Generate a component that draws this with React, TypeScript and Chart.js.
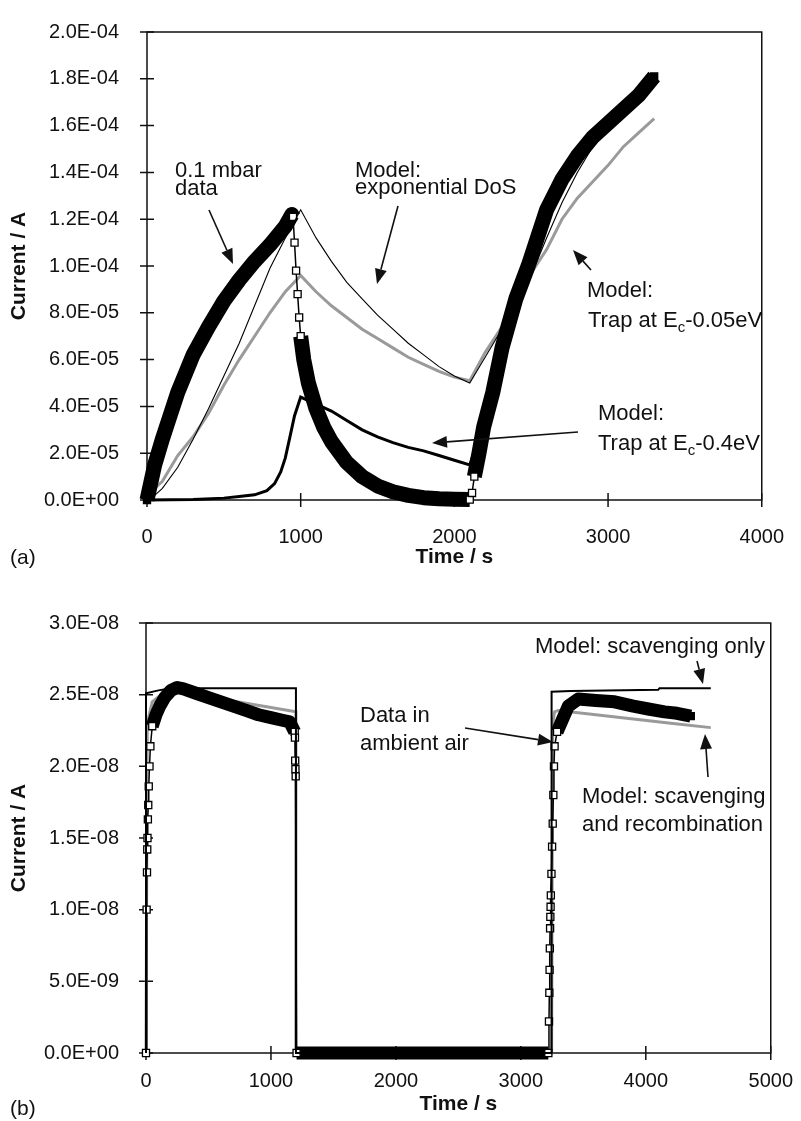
import React, { useEffect, useRef } from "react";
import { Chart, registerables } from "chart.js";

Chart.register(...registerables);

const FONT = "'Liberation Sans', Arial, Helvetica, sans-serif";
const GRAY = "#9a9a9a";
const INK = "#111";
const W = 801;

// ---------------- Panel (a) ----------------
const aTimeTicks = [0, 1000, 2000, 3000, 4000];
const aTimeTickLabels = ["0", "1000", "2000", "3000", "4000"];
const aCurrentTicks = [0, 2e-5, 4e-5, 6e-5, 8e-5, 1e-4, 1.2e-4, 1.4e-4, 1.6e-4, 1.8e-4, 2e-4];
const aCurrentTickLabels = ["0.0E+00", "2.0E-05", "4.0E-05", "6.0E-05", "8.0E-05", "1.0E-04", "1.2E-04", "1.4E-04", "1.6E-04", "1.8E-04", "2.0E-04"];

// 0.1 mbar data
const aDataTime = [0, 20, 50, 100, 150, 200, 300, 400, 500, 600, 700, 800, 900, 943, 950, 960, 970, 980, 990, 1000, 1020, 1050, 1100, 1150, 1200, 1300, 1400, 1500, 1600, 1700, 1800, 1900, 2000, 2100, 2115, 2130, 2160, 2190, 2250, 2310, 2400, 2480, 2600, 2700, 2800, 2900, 3000, 3100, 3200, 3300];
const aDataCurrent = [0, 6e-6, 1.5e-5, 2.6e-5, 3.6e-5, 4.6e-5, 6.2e-5, 7.4e-5, 8.5e-5, 9.4e-5, 1.02e-4, 1.09e-4, 1.17e-4, 1.22e-4, 1.21e-4, 1.1e-4, 9.8e-5, 8.8e-5, 7.8e-5, 7.0e-5, 6.0e-5, 5.0e-5, 3.9e-5, 3.1e-5, 2.5e-5, 1.6e-5, 1.0e-5, 6e-6, 3.5e-6, 2e-6, 1e-6, 5e-7, 3e-7, 2e-7, 3e-6, 1.0e-5, 2.0e-5, 3.1e-5, 4.6e-5, 6.5e-5, 8.6e-5, 1.0e-4, 1.24e-4, 1.37e-4, 1.47e-4, 1.55e-4, 1.61e-4, 1.67e-4, 1.73e-4, 1.81e-4];

// Model: exponential DoS
const aExpTime = [0, 50, 100, 200, 300, 400, 500, 600, 700, 800, 900, 1000, 1100, 1200, 1300, 1400, 1500, 1600, 1700, 1800, 1900, 2000, 2100, 2200, 2300, 2400, 2500, 2600, 2700, 2800, 2900, 3000, 3100, 3200, 3300];
const aExpCurrent = [0, 2e-6, 5e-6, 1.4e-5, 2.6e-5, 3.9e-5, 5.3e-5, 6.7e-5, 8.3e-5, 9.9e-5, 1.12e-4, 1.24e-4, 1.12e-4, 1.02e-4, 9.3e-5, 8.6e-5, 7.9e-5, 7.3e-5, 6.7e-5, 6.2e-5, 5.7e-5, 5.3e-5, 5.0e-5, 6.1e-5, 7.2e-5, 8.3e-5, 9.6e-5, 1.12e-4, 1.27e-4, 1.4e-4, 1.51e-4, 1.6e-4, 1.67e-4, 1.74e-4, 1.8e-4];

// Model: trap at Ec-0.05eV
const aTrap005Time = [0, 100, 200, 300, 400, 500, 600, 700, 800, 900, 1000, 1100, 1200, 1300, 1400, 1500, 1600, 1700, 1800, 1900, 2000, 2100, 2200, 2300, 2400, 2500, 2600, 2700, 2800, 2900, 3000, 3100, 3200, 3300];
const aTrap005Current = [2e-6, 8e-6, 1.9e-5, 2.7e-5, 3.7e-5, 4.9e-5, 6.0e-5, 7.0e-5, 8.0e-5, 8.9e-5, 9.6e-5, 8.9e-5, 8.3e-5, 7.8e-5, 7.3e-5, 6.9e-5, 6.5e-5, 6.1e-5, 5.8e-5, 5.5e-5, 5.25e-5, 5.1e-5, 6.3e-5, 7.3e-5, 8.3e-5, 9.7e-5, 1.07e-4, 1.2e-4, 1.29e-4, 1.36e-4, 1.43e-4, 1.51e-4, 1.57e-4, 1.63e-4];

// Model: trap at Ec-0.4eV
const aTrap04Time = [0, 300, 500, 600, 700, 780, 830, 870, 900, 930, 960, 1000, 1100, 1200, 1300, 1400, 1500, 1600, 1700, 1800, 1900, 2000, 2100, 2200, 2300, 2400, 2600, 2800, 3000, 3200, 3300];
const aTrap04Current = [0, 2e-7, 8e-7, 1.5e-6, 2.2e-6, 4e-6, 7e-6, 1.2e-5, 1.8e-5, 2.7e-5, 3.6e-5, 4.4e-5, 4.1e-5, 3.8e-5, 3.4e-5, 3.0e-5, 2.7e-5, 2.45e-5, 2.25e-5, 2.1e-5, 1.9e-5, 1.7e-5, 1.5e-5, 3.4e-5, 6.2e-5, 8.5e-5, 1.23e-4, 1.46e-4, 1.6e-4, 1.72e-4, 1.79e-4];

// ---------------- Panel (b) ----------------
const bTimeTicks = [0, 1000, 2000, 3000, 4000, 5000];
const bTimeTickLabels = ["0", "1000", "2000", "3000", "4000", "5000"];
const bCurrentTicks = [0, 5e-9, 1e-8, 1.5e-8, 2e-8, 2.5e-8, 3e-8];
const bCurrentTickLabels = ["0.0E+00", "5.0E-09", "1.0E-08", "1.5E-08", "2.0E-08", "2.5E-08", "3.0E-08"];

// Data in ambient air
const bDataTime = [0, 5, 8, 10, 12, 15, 18, 22, 28, 35, 50, 80, 110, 150, 200, 250, 300, 400, 500, 600, 700, 800, 900, 1000, 1100, 1150, 1190, 1192, 1194, 1196, 1198, 1205, 1300, 1500, 1800, 2100, 2400, 2700, 3000, 3220, 3225, 3228, 3230, 3232, 3234, 3236, 3238, 3240, 3245, 3250, 3255, 3260, 3265, 3270, 3290, 3330, 3380, 3460, 3600, 3750, 3900, 4020, 4150, 4250, 4360];
const bDataCurrent = [0, 1.0e-8, 1.26e-8, 1.42e-8, 1.5e-8, 1.63e-8, 1.73e-8, 1.86e-8, 2.0e-8, 2.14e-8, 2.28e-8, 2.36e-8, 2.42e-8, 2.48e-8, 2.53e-8, 2.55e-8, 2.54e-8, 2.51e-8, 2.48e-8, 2.45e-8, 2.42e-8, 2.39e-8, 2.36e-8, 2.34e-8, 2.32e-8, 2.31e-8, 2.24e-8, 2.2e-8, 2.04e-8, 1.98e-8, 1.93e-8, 0, 0, 0, 0, 0, 0, 0, 0, 0, 2.2e-9, 4.2e-9, 5.8e-9, 7.3e-9, 8.7e-9, 9.5e-9, 1.02e-8, 1.1e-8, 1.25e-8, 1.44e-8, 1.6e-8, 1.8e-8, 2.0e-8, 2.14e-8, 2.24e-8, 2.32e-8, 2.42e-8, 2.47e-8, 2.46e-8, 2.45e-8, 2.42e-8, 2.4e-8, 2.38e-8, 2.37e-8, 2.35e-8];

// Model: scavenging only
const bScavTime = [0, 0, 100, 200, 1200, 1200, 3246, 3246, 3400, 4100, 4110, 4520];
const bScavCurrent = [0, 2.51e-8, 2.53e-8, 2.545e-8, 2.545e-8, 0, 0, 2.52e-8, 2.525e-8, 2.535e-8, 2.545e-8, 2.545e-8];

// Model: scavenging and recombination
const bRecTime = [0, 10, 50, 150, 250, 400, 600, 800, 1000, 1200, 1200, 3246, 3255, 3270, 3300, 3600, 3900, 4200, 4520];
const bRecCurrent = [0, 2.3e-8, 2.45e-8, 2.52e-8, 2.53e-8, 2.5e-8, 2.47e-8, 2.44e-8, 2.41e-8, 2.38e-8, 0, 0, 2.3e-8, 2.38e-8, 2.39e-8, 2.36e-8, 2.33e-8, 2.3e-8, 2.27e-8];

// ---------------- helpers ----------------
type Seg = { text: string; sub?: boolean };
type Note = { x: number; y: number; parts: Seg[] };
type Arrow = { x1: number; y1: number; x2: number; y2: number };

const pts = (xs: number[], ys: number[]) => xs.map((x, i) => ({ x, y: ys[i] }));

const isSteepPair = (ax: number, ay: number, bx: number, by: number) =>
  Math.abs(bx - ax) < 3 && Math.abs(by - ay) > 5;

const steepPoint = (c: any) => {
  if (!c || c.type !== "data") return false;
  const ch = c.chart;
  const sx = ch.scales && ch.scales.x;
  const sy = ch.scales && ch.scales.y;
  const d = c.dataset && c.dataset.data;
  const i = c.dataIndex;
  if (!sx || !sy || !d || i == null) return false;
  const px = (k: number) => [sx.getPixelForValue(d[k].x), sy.getPixelForValue(d[k].y)];
  const p = px(i);
  for (const k of [i - 1, i + 1]) {
    if (k < 0 || k >= d.length) continue;
    const q = px(k);
    if (isSteepPair(p[0], p[1], q[0], q[1])) return true;
  }
  return false;
};

const dataStyle = (band: number) => ({
  borderColor: "#000",
  borderWidth: band,
  borderJoinStyle: "round",
  borderCapStyle: "butt",
  segment: {
    borderWidth: (ctx: any) => (isSteepPair(ctx.p0.x, ctx.p0.y, ctx.p1.x, ctx.p1.y) ? 1.5 : band),
  },
  pointStyle: "rect",
  pointRadius: 5,
  pointBackgroundColor: (c: any) => (steepPoint(c) ? "#fff" : "#000"),
  pointBorderColor: "#000",
  pointBorderWidth: 1.3,
  clip: false,
});

const lineStyle = (color: string, width: number) => ({
  borderColor: color,
  borderWidth: width,
  pointRadius: 0,
  clip: false,
  borderJoinStyle: "miter",
});

interface PanelProps {
  top: number;
  height: number;
  area: { left: number; right: number; top: number; bottom: number };
  xMax: number;
  yMax: number;
  xTicks: number[];
  xLabels: string[];
  yTicks: number[];
  yLabels: string[];
  datasets: any[];
  notes: Note[];
  arrows: Arrow[];
  letter: { text: string; x: number; y: number };
  xTickPad: number;
  yTickPad: number;
  xTitlePad: number;
  yTitlePad: number;
}

function Panel(p: PanelProps) {
  const ref = useRef<HTMLCanvasElement | null>(null);
  useEffect(() => {
    const canvas = ref.current!;
    const decor = {
      id: "decor",
      beforeDatasetsDraw(chart: any) {
        const { ctx, chartArea: a, scales } = chart;
        ctx.save();
        ctx.strokeStyle = INK;
        ctx.lineWidth = 1.5;
        ctx.strokeRect(a.left, a.top, a.right - a.left, a.bottom - a.top);
        ctx.beginPath();
        for (const v of p.xTicks) {
          const px = scales.x.getPixelForValue(v);
          ctx.moveTo(px, a.bottom - 7);
          ctx.lineTo(px, a.bottom + 7);
        }
        for (const v of p.yTicks) {
          const py = scales.y.getPixelForValue(v);
          ctx.moveTo(a.left - 7, py);
          ctx.lineTo(a.left + 7, py);
        }
        ctx.stroke();
        ctx.restore();
      },
      afterDraw(chart: any) {
        const { ctx } = chart;
        ctx.save();
        ctx.fillStyle = INK;
        ctx.strokeStyle = INK;
        ctx.textBaseline = "alphabetic";
        ctx.textAlign = "left";
        for (const n of p.notes) {
          let x = n.x;
          for (const s of n.parts) {
            ctx.font = s.sub ? `15px ${FONT}` : `22px ${FONT}`;
            ctx.fillText(s.text, x, s.sub ? n.y + 5 : n.y);
            x += ctx.measureText(s.text).width;
          }
        }
        ctx.font = `21px ${FONT}`;
        ctx.fillText(p.letter.text, p.letter.x, p.letter.y);
        for (const ar of p.arrows) {
          const ang = Math.atan2(ar.y2 - ar.y1, ar.x2 - ar.x1);
          const L = 15, H = 6;
          const bx = ar.x2 - L * Math.cos(ang), by = ar.y2 - L * Math.sin(ang);
          ctx.lineWidth = 1.6;
          ctx.beginPath();
          ctx.moveTo(ar.x1, ar.y1);
          ctx.lineTo(bx, by);
          ctx.stroke();
          ctx.beginPath();
          ctx.moveTo(ar.x2, ar.y2);
          ctx.lineTo(bx + H * Math.sin(ang), by - H * Math.cos(ang));
          ctx.lineTo(bx - H * Math.sin(ang), by + H * Math.cos(ang));
          ctx.closePath();
          ctx.fill();
        }
        ctx.restore();
      },
    };
    const chart = new Chart(canvas, {
      type: "line",
      data: { datasets: p.datasets },
      options: {
        animation: false,
        responsive: false,
        devicePixelRatio: 1,
        events: [],
        layout: { padding: { left: 0, top: p.area.top, right: W - p.area.right, bottom: 0 } },
        plugins: { legend: { display: false }, tooltip: { enabled: false } },
        scales: {
          x: {
            type: "linear",
            min: 0,
            max: p.xMax,
            grid: { display: false },
            border: { display: false },
            afterBuildTicks: (s: any) => {
              s.ticks = p.xTicks.map((v) => ({ value: v }));
            },
            afterFit: (s: any) => {
              s.height = p.height - p.area.bottom;
            },
            ticks: {
              autoSkip: false,
              maxRotation: 0,
              padding: p.xTickPad,
              color: INK,
              font: { family: FONT, size: 20 },
              callback: (_v: any, i: number) => p.xLabels[i],
            },
            title: {
              display: true,
              text: "Time / s",
              color: INK,
              font: { family: FONT, size: 21, weight: "bold" },
              padding: { top: 0, bottom: p.xTitlePad },
            },
          },
          y: {
            type: "linear",
            min: 0,
            max: p.yMax,
            grid: { display: false },
            border: { display: false },
            afterBuildTicks: (s: any) => {
              s.ticks = p.yTicks.map((v) => ({ value: v }));
            },
            afterFit: (s: any) => {
              s.width = p.area.left;
            },
            ticks: {
              autoSkip: false,
              padding: p.yTickPad,
              color: INK,
              font: { family: FONT, size: 20 },
              callback: (_v: any, i: number) => p.yLabels[i],
            },
            title: {
              display: true,
              text: "Current / A",
              color: INK,
              font: { family: FONT, size: 21, weight: "bold" },
              padding: { top: p.yTitlePad, bottom: 0 },
            },
          },
        },
      } as any,
      plugins: [decor],
    });
    return () => chart.destroy();
  }, []);
  return (
    <canvas
      ref={ref}
      width={W}
      height={p.height}
      style={{ position: "absolute", left: 0, top: p.top, width: W, height: p.height, display: "block" }}
    />
  );
}

export default function App() {
  const aDatasets = [
    { label: "Model: exponential DoS", data: pts(aExpTime, aExpCurrent), ...lineStyle("#000", 1.1) },
    { label: "0.1 mbar data", data: pts(aDataTime, aDataCurrent), ...dataStyle(15) },
    { label: "Model: Trap at Ec-0.4eV", data: pts(aTrap04Time, aTrap04Current), ...lineStyle("#000", 3) },
    { label: "Model: Trap at Ec-0.05eV", data: pts(aTrap005Time, aTrap005Current), ...lineStyle(GRAY, 3) },
  ];
  const bDatasets = [
    { label: "Model: scavenging only", data: pts(bScavTime, bScavCurrent), ...lineStyle("#000", 2) },
    { label: "Data in ambient air", data: pts(bDataTime, bDataCurrent), ...dataStyle(13) },
    { label: "Model: scavenging and recombination", data: pts(bRecTime, bRecCurrent), ...lineStyle(GRAY, 3) },
  ];
  const aNotes: Note[] = [
    { x: 175, y: 177, parts: [{ text: "0.1 mbar" }] },
    { x: 175, y: 195, parts: [{ text: "data" }] },
    { x: 355, y: 177, parts: [{ text: "Model:" }] },
    { x: 355, y: 194, parts: [{ text: "exponential DoS" }] },
    { x: 587, y: 297, parts: [{ text: "Model:" }] },
    { x: 588, y: 327, parts: [{ text: "Trap at E" }, { text: "c", sub: true }, { text: "-0.05eV" }] },
    { x: 598, y: 420, parts: [{ text: "Model:" }] },
    { x: 598, y: 450, parts: [{ text: "Trap at E" }, { text: "c", sub: true }, { text: "-0.4eV" }] },
  ];
  const aArrows: Arrow[] = [
    { x1: 209, y1: 210, x2: 233, y2: 264 },
    { x1: 398, y1: 206, x2: 377, y2: 284 },
    { x1: 591, y1: 270, x2: 573, y2: 250 },
    { x1: 578, y1: 432, x2: 432, y2: 443 },
  ];
  const bOff = 575;
  const bNotes: Note[] = [
    { x: 535, y: 653 - bOff, parts: [{ text: "Model: scavenging only" }] },
    { x: 360, y: 722 - bOff, parts: [{ text: "Data in" }] },
    { x: 360, y: 750 - bOff, parts: [{ text: "ambient air" }] },
    { x: 582, y: 803 - bOff, parts: [{ text: "Model: scavenging" }] },
    { x: 582, y: 831 - bOff, parts: [{ text: "and recombination" }] },
  ];
  const bArrows: Arrow[] = [
    { x1: 697, y1: 661 - bOff, x2: 703, y2: 684 - bOff },
    { x1: 465, y1: 728 - bOff, x2: 553, y2: 742 - bOff },
    { x1: 708, y1: 777 - bOff, x2: 705, y2: 734 - bOff },
  ];
  return (
    <div style={{ position: "absolute", left: 0, top: 0, width: W, height: 1121, background: "#fff" }}>
      <Panel
        top={0}
        height={575}
        area={{ left: 147, right: 775, top: 22, bottom: 500 }}
        xMax={4000}
        yMax={2e-4}
        xTicks={aTimeTicks}
        xLabels={aTimeTickLabels}
        yTicks={aCurrentTicks}
        yLabels={aCurrentTickLabels}
        datasets={aDatasets}
        notes={aNotes}
        arrows={aArrows}
        letter={{ text: "(a)", x: 10, y: 564 }}
        xTickPad={17}
        yTickPad={20}
        xTitlePad={5}
        yTitlePad={7}
      />
      <Panel
        top={bOff}
        height={546}
        area={{ left: 146, right: 773, top: 48, bottom: 478 }}
        xMax={5000}
        yMax={3e-8}
        xTicks={bTimeTicks}
        xLabels={bTimeTickLabels}
        yTicks={bCurrentTicks}
        yLabels={bCurrentTickLabels}
        datasets={bDatasets}
        notes={bNotes}
        arrows={bArrows}
        letter={{ text: "(b)", x: 10, y: 1115 - bOff }}
        xTickPad={8}
        yTickPad={19}
        xTitlePad={4}
        yTitlePad={7}
      />
    </div>
  );
}
